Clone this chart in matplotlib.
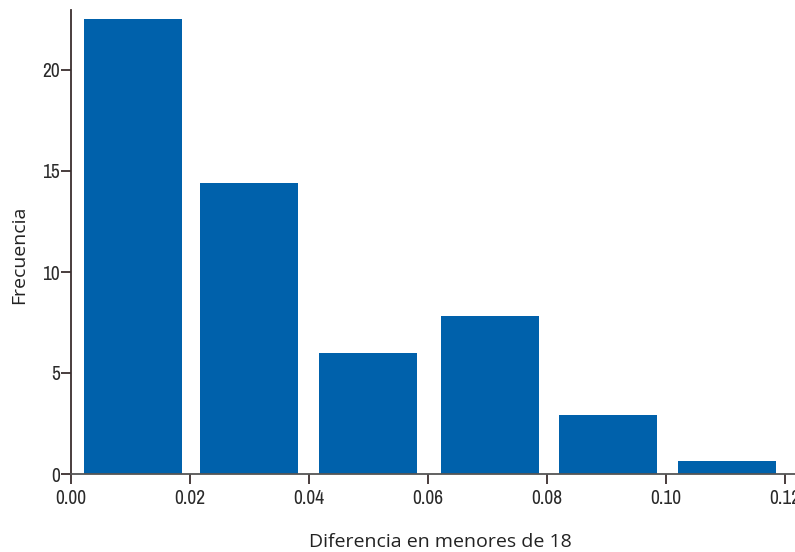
import matplotlib
matplotlib.use("Agg")
import matplotlib.pyplot as plt
from matplotlib import font_manager

# bar centres (share of under-18s difference) and frequencies
centros = [0.0104, 0.0299, 0.0499, 0.0704, 0.0903, 0.1103]
frecuencias = [22.5, 14.4, 6.0, 7.8, 2.9, 0.65]
ancho = 0.0165

xticks = [0.00, 0.02, 0.04, 0.06, 0.08, 0.10, 0.12]
xticklabels = ["0.00", "0.02", "0.04", "0.06", "0.08", "0.10", "0.12"]
yticks = [0, 5, 10, 15, 20]

# look for some condensed face for the tick labels
narrow = None
for f in font_manager.fontManager.ttflist:
    if "Narrow" in f.name or "Condensed" in f.name:
        narrow = f.name
        break
for f in font_manager.fontManager.ttflist:
    if f.name == "Liberation Sans Narrow":
        narrow = f.name
stretch = "normal"
if narrow is None:
    narrow = "DejaVu Sans"
    stretch = "condensed"

fig = plt.figure(figsize=(7.95, 5.52), dpi=100)
ax = fig.add_axes([71/795, 78/552, 724/795, 464/552])

ax.bar(centros, frecuencias, width=ancho, color="#0061AB", zorder=1)

ax.set_xlim(0, 0.12*724/714)
ax.set_ylim(0, 464/20.2)

for s in ["top", "right"]:
    ax.spines[s].set_visible(False)
ax.spines["left"].set_color("#3a2e2e")
ax.spines["bottom"].set_color("#555555")
ax.spines["left"].set_linewidth(1.3)
ax.spines["bottom"].set_linewidth(1.3)

ax.set_xticks(xticks)
ax.set_xticklabels(xticklabels)
ax.set_yticks(yticks)
ax.tick_params(axis="both", direction="out", length=7, width=1.3, color="#3a2e2e",
               labelsize=14, labelcolor="#2a2a2a")
ax.tick_params(axis="x", pad=4)
ax.tick_params(axis="y", pad=1)
for lab in ax.get_xticklabels() + ax.get_yticklabels():
    lab.set_family(narrow)
    lab.set_stretch(stretch)

ax.set_xlabel("Diferencia en menores de 18", fontsize=14, family="Open Sans",
              color="#222222")
ax.set_ylabel("Frecuencia", fontsize=14, family="Open Sans", color="#222222")
ax.xaxis.set_label_coords((440 - 71) / 724, (552 - 542 - 78) / 464)
ax.yaxis.set_label_coords((19 - 71) / 724, (552 - 255 - 78) / 464)
ax.xaxis.label.set_va("center")
ax.yaxis.label.set_va("center")

fig.savefig("out.png", dpi=100)
